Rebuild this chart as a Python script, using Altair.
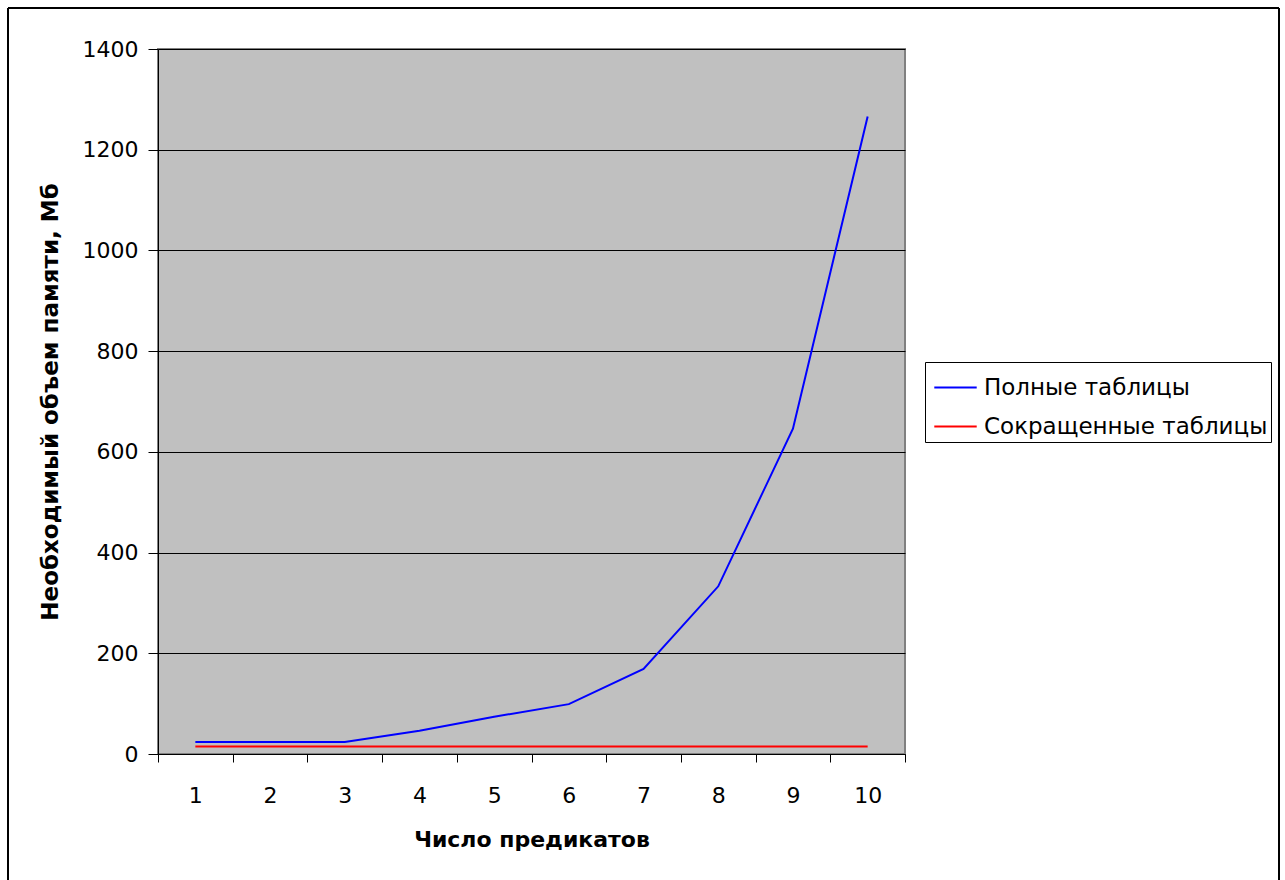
import altair as alt
import pandas as pd

categories = ["1", "2", "3", "4", "5", "6", "7", "8", "9", "10"]
full_tables = [24, 24, 24, 46, 74, 99, 169, 333, 646, 1266]
reduced_tables = [15, 15, 15, 15, 15, 15, 15, 15, 15, 15]
series_names = ["Полные таблицы", "Сокращенные таблицы"]
y_ticks = [0, 200, 400, 600, 800, 1000, 1200, 1400]

rows = []
for c, v in zip(categories, full_tables):
    rows.append({"n": c, "value": v, "series": series_names[0]})
for c, v in zip(categories, reduced_tables):
    rows.append({"n": c, "value": v, "series": series_names[1]})
df = pd.DataFrame(rows)

FONT = "DejaVu Sans"
FS = 22

lines = alt.Chart(df).mark_line(strokeWidth=2).encode(
    x=alt.X("n:O", sort=categories,
            scale=alt.Scale(type="band", paddingInner=0, paddingOuter=0),
            axis=alt.Axis(title="Число предикатов", labelAngle=0, tickBand="extent",
                          grid=False, domainColor="black", tickColor="black",
                          tickSize=8, labelPadding=23, labelFontSize=FS,
                          labelFont=FONT, labelColor="black",
                          titleFont=FONT, titleFontSize=FS, titleFontWeight="bold",
                          titlePadding=23, titleColor="black")),
    y=alt.Y("value:Q", scale=alt.Scale(domain=[0, 1400], nice=False),
            axis=alt.Axis(title="Необходимый объем памяти, Мб", values=y_ticks, format="d",
                          grid=True, gridColor="black", gridWidth=1,
                          domainColor="black", tickColor="black", tickSize=10,
                          labelPadding=10, labelFontSize=FS, labelFont=FONT,
                          labelColor="black", titleFont=FONT, titleFontSize=FS + 1,
                          titleFontWeight="bold", titlePadding=20, titleColor="black")),
    color=alt.Color("series:N", sort=series_names,
                    scale=alt.Scale(domain=series_names, range=["#0000FF", "#FF0000"]),
                    legend=alt.Legend(title=None, orient="none", legendX=767, legendY=313,
                                      symbolType="stroke", symbolSize=1800,
                                      symbolStrokeWidth=2, symbolOffset=5, labelFont=FONT,
                                      labelFontSize=23, labelColor="black", labelLimit=0,
                                      strokeColor="black", fillColor="white",
                                      padding=3, rowPadding=4, labelOffset=6)),
)

frame = alt.Chart(df).mark_rect(fill=None, stroke="black", strokeWidth=1, clip=False).encode(
    x=alt.value(-150), x2=alt.value(1121), y=alt.value(-41), y2=alt.value(840)
)

chart = alt.layer(frame, lines).properties(
    width=747, height=705,
    background="white",
    autosize=alt.AutoSizeParams(type="none"),
    padding={"left": 158, "top": 49, "right": 380, "bottom": 126},
).configure_view(fill="#C0C0C0", stroke="#808080", strokeWidth=2)

chart.save("out.html", embed_options={"renderer": "svg", "actions": False})
